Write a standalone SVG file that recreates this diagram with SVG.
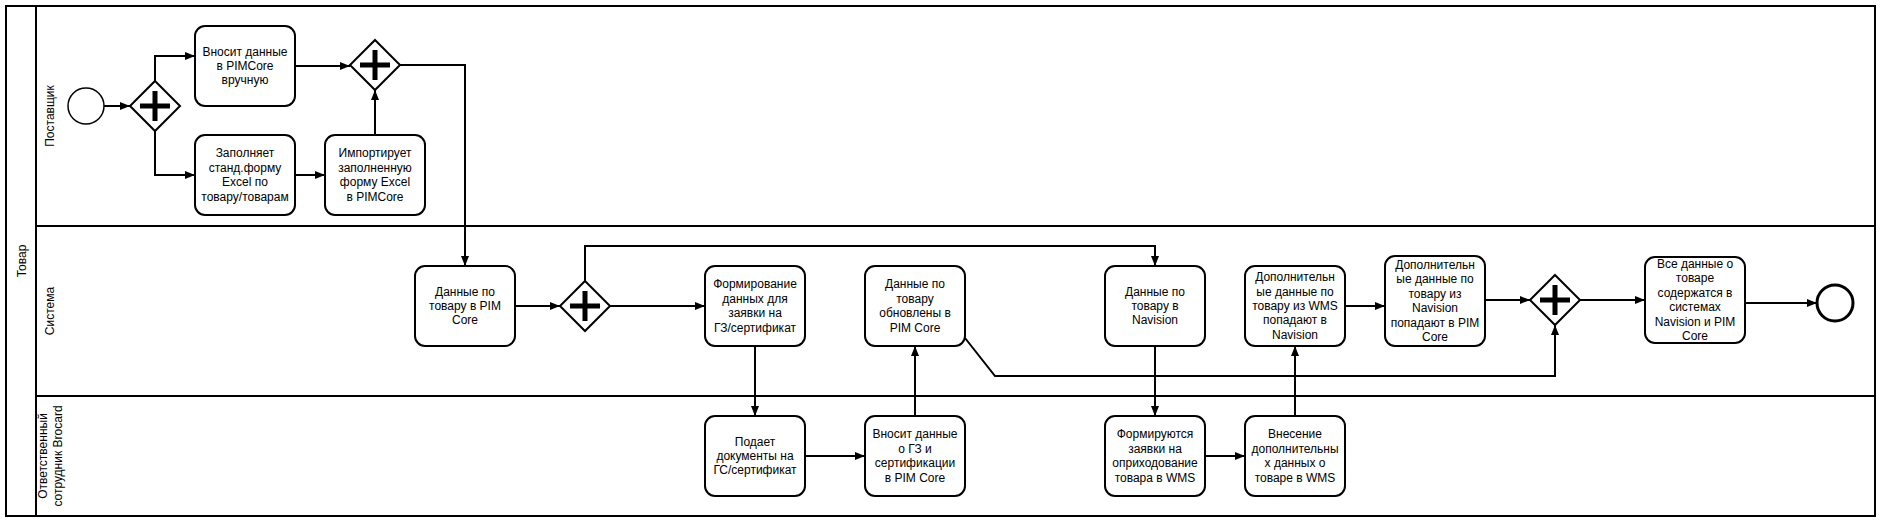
<svg xmlns="http://www.w3.org/2000/svg" width="1881" height="522" viewBox="0 0 1881 522">
<style>
.frame{fill:none;stroke:#000;stroke-width:2}
.task rect{fill:#fff;stroke:#000;stroke-width:2}
.gw polygon{fill:#fff;stroke:#000;stroke-width:2}
.gw path{fill:none;stroke:#000;stroke-width:5}
.lbl{font-family:"Liberation Sans",Arial,sans-serif;font-size:12px;fill:#000;text-anchor:middle}
.conn path{fill:none;stroke:#000;stroke-width:2}
</style>
<defs>
<marker id="arr" markerUnits="userSpaceOnUse" markerWidth="10" markerHeight="8" refX="10" refY="4" orient="auto">
<path d="M0,0 L10,4 L0,8 z" fill="#000"/>
</marker>
</defs>
<rect x="0" y="0" width="1881" height="522" fill="#fff"/>
<g id="pool">
<rect class="frame" x="6" y="6" width="1869" height="510"/>
<line x1="36" y1="6" x2="36" y2="516" stroke="#000" stroke-width="2"/>
<line x1="36" y1="226" x2="1875" y2="226" stroke="#000" stroke-width="2"/>
<line x1="36" y1="396" x2="1875" y2="396" stroke="#000" stroke-width="2"/>
<text class="lbl" transform="translate(26,261) rotate(-90)">Товар</text>
<text class="lbl" transform="translate(54,116) rotate(-90)">Поставщик</text>
<text class="lbl" transform="translate(54,311) rotate(-90)">Система</text>
<text class="lbl" transform="translate(47,456) rotate(-90)">Ответственный</text>
<text class="lbl" transform="translate(62,456) rotate(-90)">сотрудник Brocard</text>
</g>

<g class="conn" id="connectors">
<path d="M104,106 L130,106" marker-end="url(#arr)"/>
<path d="M155,81 L155,56 L195,56" marker-end="url(#arr)"/>
<path d="M155,131 L155,175 L195,175" marker-end="url(#arr)"/>
<path d="M295,66 L350,66" marker-end="url(#arr)"/>
<path d="M295,175 L325,175" marker-end="url(#arr)"/>
<path d="M375,135 L375,90" marker-end="url(#arr)"/>
<path d="M400,65 L465,65 L465,266" marker-end="url(#arr)"/>
<path d="M515,306 L560,306" marker-end="url(#arr)"/>
<path d="M610,306 L705,306" marker-end="url(#arr)"/>
<path d="M585,281 L585,246 L1155,246 L1155,266" marker-end="url(#arr)"/>
<path d="M755,346 L755,416" marker-end="url(#arr)"/>
<path d="M805,456 L865,456" marker-end="url(#arr)"/>
<path d="M915,416 L915,346" marker-end="url(#arr)"/>
<path d="M965,338 L995,376 L1555,376 L1555,325" marker-end="url(#arr)"/>
<path d="M1155,346 L1155,416" marker-end="url(#arr)"/>
<path d="M1205,456 L1245,456" marker-end="url(#arr)"/>
<path d="M1295,416 L1295,346" marker-end="url(#arr)"/>
<path d="M1345,306 L1385,306" marker-end="url(#arr)"/>
<path d="M1485,300 L1530,300" marker-end="url(#arr)"/>
<path d="M1580,300 L1645,300" marker-end="url(#arr)"/>
<path d="M1745,303 L1817,303" marker-end="url(#arr)"/>
</g>

<g id="start"><circle cx="86" cy="106" r="18" fill="#fff" stroke="#000" stroke-width="1.5"/></g>

<g id="gw1" class="gw"><polygon points="155,81 180,106 155,131 130,106"/><path d="M140,106 H170 M155,91 V121"/></g>
<g id="gw2" class="gw"><polygon points="375,40 400,65 375,90 350,65"/><path d="M360,65 H390 M375,50 V80"/></g>
<g id="gw3" class="gw"><polygon points="585,281 610,306 585,331 560,306"/><path d="M570,306 H600 M585,291 V321"/></g>
<g id="gw4" class="gw"><polygon points="1555,275 1580,300 1555,325 1530,300"/><path d="M1540,300 H1570 M1555,285 V315"/></g>

<g id="t1" class="task"><rect x="195" y="26" width="100" height="80" rx="10"/>
<text class="lbl" x="245" y="55.6"><tspan x="245">Вносит данные</tspan><tspan x="245" dy="14.4">в PIMCore</tspan><tspan x="245" dy="14.4">вручную</tspan></text></g>

<g id="t2" class="task"><rect x="195" y="135" width="100" height="80" rx="10"/>
<text class="lbl" x="245" y="157.4"><tspan x="245">Заполняет</tspan><tspan x="245" dy="14.4">станд.форму</tspan><tspan x="245" dy="14.4">Excel по</tspan><tspan x="245" dy="14.4">товару/товарам</tspan></text></g>

<g id="t3" class="task"><rect x="325" y="135" width="100" height="80" rx="10"/>
<text class="lbl" x="375" y="157.4"><tspan x="375">Импортирует</tspan><tspan x="375" dy="14.4">заполненную</tspan><tspan x="375" dy="14.4">форму Excel</tspan><tspan x="375" dy="14.4">в PIMCore</tspan></text></g>

<g id="t4" class="task"><rect x="415" y="266" width="100" height="80" rx="10"/>
<text class="lbl" x="465" y="295.6"><tspan x="465">Данные по</tspan><tspan x="465" dy="14.4">товару в PIM</tspan><tspan x="465" dy="14.4">Core</tspan></text></g>

<g id="t5" class="task"><rect x="705" y="266" width="100" height="80" rx="10"/>
<text class="lbl" x="755" y="288.4"><tspan x="755">Формирование</tspan><tspan x="755" dy="14.4">данных для</tspan><tspan x="755" dy="14.4">заявки на</tspan><tspan x="755" dy="14.4">ГЗ/сертификат</tspan></text></g>

<g id="t6" class="task"><rect x="865" y="266" width="100" height="80" rx="10"/>
<text class="lbl" x="915" y="288.4"><tspan x="915">Данные по</tspan><tspan x="915" dy="14.4">товару</tspan><tspan x="915" dy="14.4">обновлены в</tspan><tspan x="915" dy="14.4">PIM Core</tspan></text></g>

<g id="t7" class="task"><rect x="1105" y="266" width="100" height="80" rx="10"/>
<text class="lbl" x="1155" y="295.6"><tspan x="1155">Данные по</tspan><tspan x="1155" dy="14.4">товару в</tspan><tspan x="1155" dy="14.4">Navision</tspan></text></g>

<g id="t8" class="task"><rect x="1245" y="266" width="100" height="80" rx="10"/>
<text class="lbl" x="1295" y="281.2"><tspan x="1295">Дополнительн</tspan><tspan x="1295" dy="14.4">ые данные по</tspan><tspan x="1295" dy="14.4">товару из WMS</tspan><tspan x="1295" dy="14.4">попадают в</tspan><tspan x="1295" dy="14.4">Navision</tspan></text></g>

<g id="t9" class="task"><rect x="1385" y="256" width="100" height="90" rx="10"/>
<text class="lbl" x="1435" y="269"><tspan x="1435">Дополнительн</tspan><tspan x="1435" dy="14.4">ые данные по</tspan><tspan x="1435" dy="14.4">товару из</tspan><tspan x="1435" dy="14.4">Navision</tspan><tspan x="1435" dy="14.4">попадают в PIM</tspan><tspan x="1435" dy="14.4">Core</tspan></text></g>

<g id="t10" class="task"><rect x="1645" y="257" width="100" height="86" rx="10"/>
<text class="lbl" x="1695" y="268"><tspan x="1695">Все данные о</tspan><tspan x="1695" dy="14.4">товаре</tspan><tspan x="1695" dy="14.4">содержатся в</tspan><tspan x="1695" dy="14.4">системах</tspan><tspan x="1695" dy="14.4">Navision и PIM</tspan><tspan x="1695" dy="14.4">Core</tspan></text></g>

<g id="end"><circle cx="1835" cy="303" r="18" fill="#fff" stroke="#000" stroke-width="3"/></g>

<g id="t11" class="task"><rect x="705" y="416" width="100" height="80" rx="10"/>
<text class="lbl" x="755" y="445.6"><tspan x="755">Подает</tspan><tspan x="755" dy="14.4">документы на</tspan><tspan x="755" dy="14.4">ГС/сертификат</tspan></text></g>

<g id="t12" class="task"><rect x="865" y="416" width="100" height="80" rx="10"/>
<text class="lbl" x="915" y="438.4"><tspan x="915">Вносит данные</tspan><tspan x="915" dy="14.4">о ГЗ и</tspan><tspan x="915" dy="14.4">сертификации</tspan><tspan x="915" dy="14.4">в PIM Core</tspan></text></g>

<g id="t13" class="task"><rect x="1105" y="416" width="100" height="80" rx="10"/>
<text class="lbl" x="1155" y="438.4"><tspan x="1155">Формируются</tspan><tspan x="1155" dy="14.4">заявки на</tspan><tspan x="1155" dy="14.4">оприходование</tspan><tspan x="1155" dy="14.4">товара в WMS</tspan></text></g>

<g id="t14" class="task"><rect x="1245" y="416" width="100" height="80" rx="10"/>
<text class="lbl" x="1295" y="438.4"><tspan x="1295">Внесение</tspan><tspan x="1295" dy="14.4">дополнительны</tspan><tspan x="1295" dy="14.4">х данных о</tspan><tspan x="1295" dy="14.4">товаре в WMS</tspan></text></g>
</svg>
